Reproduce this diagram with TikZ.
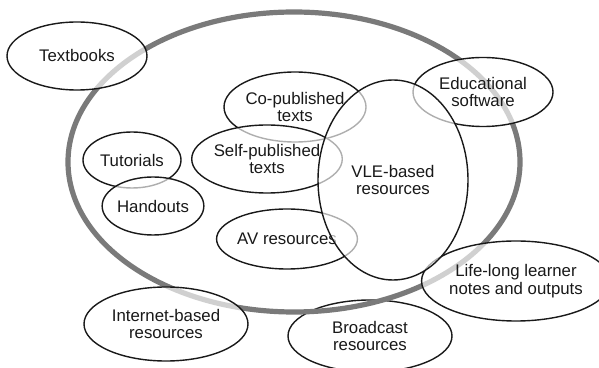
\documentclass[tikz,border=0pt]{standalone}
\usepackage{fontspec}
\setmainfont{Liberation Sans}
\usetikzlibrary{shapes.geometric}

\begin{document}
\begin{tikzpicture}
[x=0.5pt,y=-0.5pt,%
  nodeDecorate/.style={shape=ellipse,draw=black!90,line width=0.7pt,inner sep=0pt,
    fill=white,fill opacity=0.65,text opacity=1,text=black!90,align=center,
    font=\fontsize{8.4}{8.7}\selectfont},%
  ringDecorate/.style={shape=ellipse,draw=black!52,line width=2.6pt,inner sep=0pt}]
\useasboundingbox (0,0) rectangle (599,368);
%% lowest bubble, sits under the ring
\node (broadcast) at (370,336) [nodeDecorate,minimum width=82pt,minimum height=36pt] {Broadcast\\resources};
%% the big ring
\node (ring) at (294,162) [ringDecorate,minimum width=226pt,minimum height=150pt] {};
%% bubbles, drawn from bottom to top
\foreach \nodename/\x/\y/\w/\h/\txt in {%
  textbooks/77/56/140/68/Textbooks,
  edu/483/92/140/69/Educational\\software,
  internet/166/324/164/74/Internet-based\\resources,
  lifelong/516/281/166/80/Life-long learner\\notes and outputs,
  tutorials/132/160/98/56/Tutorials,
  handouts/153/206/97/58/Handouts,
  copub/295/107/142/70/Co-published\\texts,
  selfpub/267/159/142/68/Self-published\\texts,
  av/287/239/124/60/AV resources,
  vle/393/180/150/200/VLE-based\\resources}
{
  \node (\nodename) at (\x,\y) [nodeDecorate,minimum width=\w*0.5pt,minimum height=\h*0.5pt] {\txt};
}
\end{tikzpicture}
\end{document}
